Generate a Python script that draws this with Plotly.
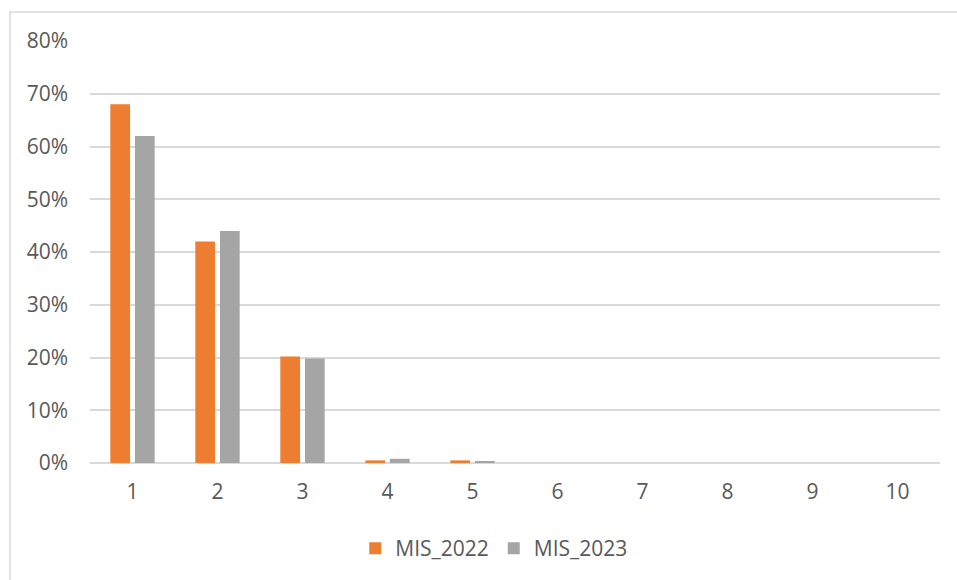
import plotly.graph_objects as go

categories = ["1", "2", "3", "4", "5", "6", "7", "8", "9", "10"]
mis_2022 = [0.68, 0.42, 0.202, 0.005, 0.005, 0, 0, 0, 0, 0]
mis_2023 = [0.62, 0.44, 0.198, 0.008, 0.003, 0, 0, 0, 0, 0]
y_ticks = [0, 0.1, 0.2, 0.3, 0.4, 0.5, 0.6, 0.7, 0.8]

FONT = "Open Sans"
TXT = "#595959"
FS = 21

fig = go.Figure()
fig.add_trace(go.Bar(x=categories, y=mis_2022, name="MIS_2022",
                     marker=dict(color="#ED7D31", line=dict(width=0))))
fig.add_trace(go.Bar(x=categories, y=mis_2023, name="MIS_2023",
                     marker=dict(color="#A5A5A5", line=dict(width=0))))

L, R, T, B = 90, 17, 41, 116
W, H = 957, 580
pw, ph = W - L - R, H - T - B

fig.update_layout(
    width=W, height=H,
    margin=dict(l=L, r=R, t=T, b=B),
    paper_bgcolor="white", plot_bgcolor="white",
    barmode="group", bargap=0.42, bargroupgap=0.2,
    font=dict(family=FONT, size=FS, color=TXT),
    showlegend=True,
    legend=dict(orientation="h", x=0.475, xanchor="center", y=-0.2, yanchor="middle",
                font=dict(family=FONT, size=FS, color=TXT), traceorder="normal",
                itemwidth=30),
    xaxis=dict(type="category", showgrid=False, showline=False, ticks="",
               ticklabelstandoff=14,
               tickfont=dict(family=FONT, size=FS, color=TXT)),
    yaxis=dict(range=[0, 0.8], tickvals=y_ticks, tickformat=".0%",
               showgrid=True, gridcolor="#D9D9D9", gridwidth=1.5,
               zeroline=True, zerolinecolor="#D9D9D9", zerolinewidth=1.5,
               showline=False, ticks="", ticklabelstandoff=21,
               tickfont=dict(family=FONT, size=FS, color=TXT)),
)

# chart-area border (cropped on right and bottom in the reference)
fig.add_shape(type="rect", xref="paper", yref="paper",
              x0=(10 - L) / pw, x1=(W + 5 - L) / pw,
              y0=(H - B - (H + 5)) / ph, y1=(H - B - 12) / ph,
              line=dict(color="#D9D9D9", width=1.5), fillcolor="rgba(0,0,0,0)",
              layer="below")

fig.write_html("out.html")
